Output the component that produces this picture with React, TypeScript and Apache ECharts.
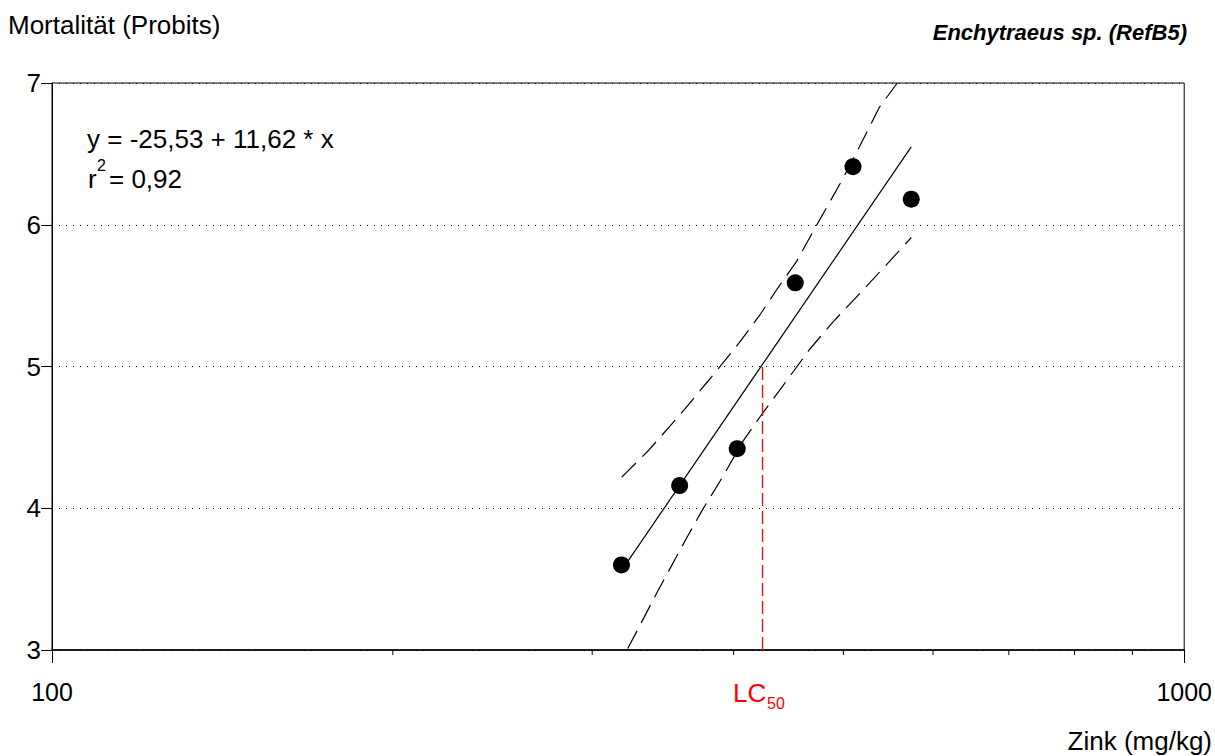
import React, { useEffect, useRef } from "react";
import * as echarts from "echarts";

// Observed data (Zink mg/kg vs. mortality in probits)
const pointX = [318.4, 358.4, 402.9, 453.4, 509.9, 574.0];
const pointY = [3.6, 4.16, 4.42, 5.59, 6.41, 6.18];

// Regression line end points
const fitX = [318.4, 574.0];
const fitY = [3.56, 6.55];

// Upper confidence band
const upperX = [318.6, 335.7, 353.3, 365.7, 380.9, 404.8, 421.6, 437.3, 454.5, 471.5, 499.1, 516.6, 538.1, 558.0];
const upperY = [4.22, 4.4, 4.6, 4.74, 4.91, 5.17, 5.36, 5.55, 5.74, 5.97, 6.32, 6.55, 6.83, 7.0];

// Lower confidence band
const lowerX = [322.5, 342.0, 363.5, 375.5, 391.1, 407.4, 424.2, 441.8, 466.7, 489.0, 513.4, 540.3, 574.1];
const lowerY = [3.01, 3.4, 3.79, 3.99, 4.22, 4.47, 4.67, 4.86, 5.12, 5.31, 5.49, 5.68, 5.91];

// LC50
const lc50X = 424.2;
const lc50Y = [3, 5];

// Minor ticks on the log axis
const minorTicks = [200, 300, 400, 500, 600, 700, 800, 900];

const FONT = "'Liberation Sans', Arial, Helvetica, sans-serif";

const zip = (xs: number[], ys: number[]) => xs.map((x, i) => [x, ys[i]]);

export default function App() {
  const ref = useRef<HTMLDivElement>(null);

  useEffect(() => {
    if (!ref.current) return;
    const chart = echarts.init(ref.current, undefined, { renderer: "svg" });
    const option: any = {
      animation: false,
      backgroundColor: "#fff",
      grid: {
        left: 52,
        right: 30,
        top: 83,
        bottom: 106,
        show: true,
        borderColor: "#000",
        borderWidth: 1,
        backgroundColor: "transparent",
      },
      xAxis: {
        type: "log",
        logBase: 10,
        min: 100,
        max: 1000,
        axisLine: { show: true, lineStyle: { color: "#000", width: 1.5 } },
        axisTick: { show: true, inside: false, length: 13, lineStyle: { color: "#000", width: 1 } },
        axisLabel: {
          show: true,
          color: "#000",
          fontSize: 25,
          fontFamily: FONT,
          margin: 29,
          showMinLabel: true,
          showMaxLabel: true,
          formatter: (v: number) => String(Math.round(v)),
        },
        splitLine: { show: false },
        minorTick: { show: false },
      },
      yAxis: {
        type: "value",
        min: 3,
        max: 7,
        interval: 1,
        axisLine: { show: true, lineStyle: { color: "#000", width: 1 } },
        axisTick: { show: true, inside: false, length: 11, lineStyle: { color: "#000", width: 1 } },
        axisLabel: { color: "#000", fontSize: 26, fontFamily: FONT, margin: 11 },
        splitLine: { show: true, lineStyle: { color: "#000", width: 1, type: [1, 6] } },
      },
      series: [
        {
          type: "custom",
          clip: false,
          silent: true,
          data: minorTicks.map((v) => [v, 3]),
          renderItem: (_p: any, api: any) => {
            const pt = api.coord([api.value(0), api.value(1)]);
            return {
              type: "line",
              shape: { x1: pt[0], y1: pt[1], x2: pt[0], y2: pt[1] + 5 },
              style: { stroke: "#000", lineWidth: 1 },
            };
          },
        },
        {
          type: "line",
          data: zip(upperX, upperY),
          showSymbol: false,
          symbol: "none",
          clip: true,
          lineStyle: { color: "#000", width: 1.2, type: [20, 9] },
        },
        {
          type: "line",
          data: zip(lowerX, lowerY),
          showSymbol: false,
          symbol: "none",
          clip: true,
          lineStyle: { color: "#000", width: 1.2, type: [20, 9] },
        },
        {
          type: "line",
          data: zip(fitX, fitY),
          showSymbol: false,
          symbol: "none",
          lineStyle: { color: "#000", width: 1.2, type: "solid" },
        },
        {
          type: "line",
          data: lc50Y.map((y) => [lc50X, y]),
          showSymbol: false,
          symbol: "none",
          lineStyle: { color: "#ff0000", width: 1.3, type: [13, 5] },
        },
        {
          type: "scatter",
          data: zip(pointX, pointY),
          symbol: "circle",
          symbolSize: 17,
          itemStyle: { color: "#000", opacity: 1 },
          z: 5,
        },
      ],
      graphic: [
        {
          type: "text",
          left: 8,
          top: 12,
          style: { text: "Mortalität (Probits)", fontSize: 26, fontFamily: FONT, fill: "#000" },
        },
        {
          type: "text",
          right: 28,
          top: 21,
          style: {
            text: "Enchytraeus sp. (RefB5)",
            fontSize: 22,
            fontWeight: "bold",
            fontStyle: "italic",
            fontFamily: FONT,
            fill: "#000",
          },
        },
        {
          type: "text",
          left: 87,
          top: 126,
          style: { text: "y = -25,53 + 11,62 * x", fontSize: 26, fontFamily: FONT, fill: "#000" },
        },
        {
          type: "text",
          left: 88,
          top: 166,
          style: { text: "r", fontSize: 26, fontFamily: FONT, fill: "#000" },
        },
        {
          type: "text",
          left: 97,
          top: 157,
          style: { text: "2", fontSize: 16, fontFamily: FONT, fill: "#000" },
        },
        {
          type: "text",
          left: 109,
          top: 166,
          style: { text: "= 0,92", fontSize: 26, fontFamily: FONT, fill: "#000" },
        },
        {
          type: "text",
          left: 733,
          top: 680,
          style: { text: "LC", fontSize: 26, fontFamily: FONT, fill: "#ff0000" },
        },
        {
          type: "text",
          left: 767,
          top: 695,
          style: { text: "50", fontSize: 16, fontFamily: FONT, fill: "#ff0000" },
        },
        {
          type: "text",
          right: 3,
          top: 728,
          style: { text: "Zink (mg/kg)", fontSize: 26, fontFamily: FONT, fill: "#000" },
        },
      ],
    };
    chart.setOption(option);
    return () => chart.dispose();
  }, []);

  return (
    <div
      ref={ref}
      style={{ position: "fixed", left: 0, top: 0, width: 1215, height: 756, background: "#fff" }}
    />
  );
}
